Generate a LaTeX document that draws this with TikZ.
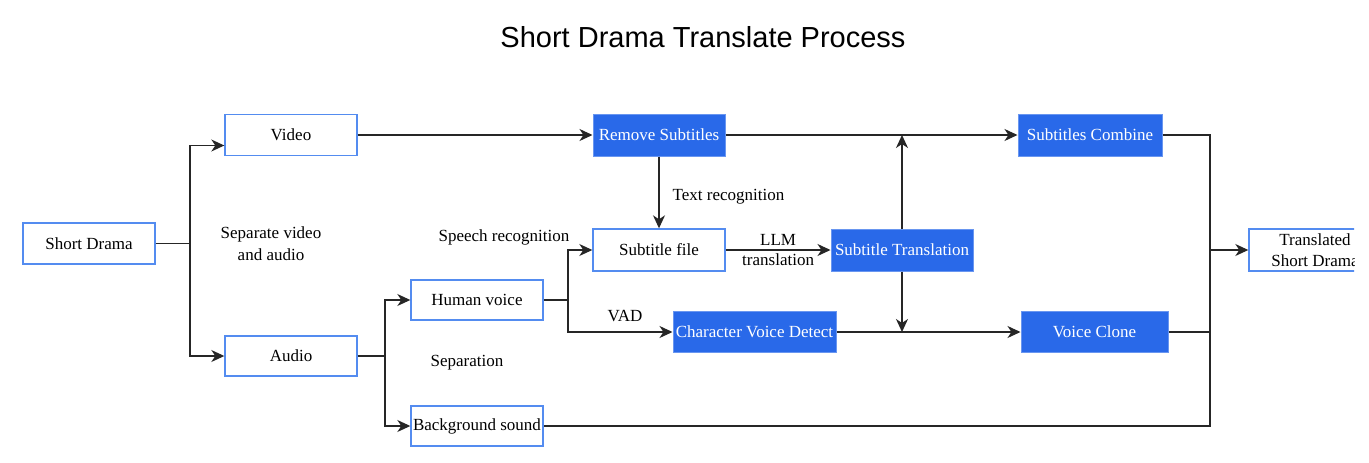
\documentclass[tikz,border=0pt]{standalone}
\usepackage{fontspec}
\setmainfont{Liberation Serif}
\newfontfamily\titlefont{Liberation Sans}
\usetikzlibrary{arrows.meta,calc}
\definecolor{boxblue}{RGB}{41,105,233}
\definecolor{edgeblue}{RGB}{84,140,240}
\tikzset{
  base/.style={minimum width=132pt,minimum height=41pt,inner sep=0pt,align=center,
    font=\fontsize{17}{21.5}\selectfont},
  wbox/.style={base,draw=edgeblue,line width=1.4pt,fill=white,text=black},
  bbox/.style={base,draw=boxblue!70!white,line width=1pt,fill=boxblue,text=white},
  conn/.style={line width=1.3pt,draw=black!85},
  arr/.style={conn,-{Stealth[length=13pt,width=12pt,inset=4pt]}},
  lbl/.style={font=\fontsize{17}{22}\selectfont,align=center,inner sep=1pt},
}
\begin{document}
\begin{tikzpicture}[x=1pt,y=-1pt]
\useasboundingbox (0,0) rectangle (1369,463);
\fill[white] (0,0) rectangle (1369,463);

\node[font=\titlefont\fontsize{29}{34}\selectfont] (title) at (703,37) {Short Drama Translate Process};

\node[wbox] (sd) at (89,243.5) {Short Drama};
\node[wbox] (video) at (291,135) {Video};
\node[wbox,minimum height=40pt] (audio) at (291,356) {Audio};
\node[bbox,minimum height=42pt] (rs) at (659,135) {Remove Subtitles};
\node[wbox,minimum height=42pt] (sf) at (659,250) {Subtitle file};
\node[wbox,minimum height=40pt] (hv) at (477,300) {Human voice};
\node[wbox,minimum height=40pt] (bg) at (477,426) {Background sound};
\node[bbox,minimum width=163pt] (cvd) at (754.5,332) {Character Voice Detect};
\node[bbox,minimum width=142pt,minimum height=42pt] (st) at (902,250) {Subtitle Translation};
\node[bbox,minimum width=144pt,minimum height=42pt] (sc) at (1090,135) {Subtitles Combine};
\node[bbox,minimum width=147pt] (vc) at (1094.5,332) {Voice Clone};
\begin{scope}
\clip (0,0) rectangle (1354,463);
\node[wbox,minimum height=42pt] (tsd) at (1315,250) {Translated\\Short Drama};
\end{scope}

\node[lbl] (l1) at (271,244) {Separate video\\and audio};
\node[lbl] (l2) at (504,237) {Speech recognition};
\node[lbl] (l3) at (625,316) {VAD};
\node[lbl] (l4) at (467,363) {Separation};

\coordinate (j1) at (190,243.5);
\coordinate (j2) at (385,356);
\coordinate (j3) at (568,300);
\coordinate (j4) at (1210,250);
\coordinate (j5) at (1210,426);

\draw[conn] (sd.east) -- (j1);
\draw[arr] (j1) |- ($(video.west)+(0,10.5)$);
\draw[arr] (j1) |- (audio.west);
\draw[arr] (video.east) -- (rs.west);
\draw[arr] (rs.east) -- (sc.west);
\draw[arr] (rs.south) -- (sf.north) node[lbl,midway,right,xshift=12pt,yshift=-4pt] (l5) {Text recognition};
\draw[conn] (audio.east) -- (j2);
\draw[arr] (j2) |- (hv.west);
\draw[arr] (j2) |- (bg.west);
\draw[conn] (hv.east) -- (j3);
\draw[arr] (j3) |- (sf.west);
\draw[arr] (j3) |- (cvd.west);
\draw[arr] (sf.east) -- (st.west) node[lbl,midway,above,yshift=3pt] (l6) {LLM} node[lbl,midway,below,yshift=-2pt] (l7) {translation};
\draw[arr] (cvd.east) -- (vc.west);
\draw[arr] (st.north) -- (st.north |- rs.east);
\draw[arr] (st.south) -- (st.south |- cvd.east);
\draw[conn] (sc.east) -| (j5) -- (bg.east);
\draw[conn] (vc.east) -- (vc.east -| j4);
\draw[arr] (j4) -- (tsd.west);
\end{tikzpicture}
\end{document}
